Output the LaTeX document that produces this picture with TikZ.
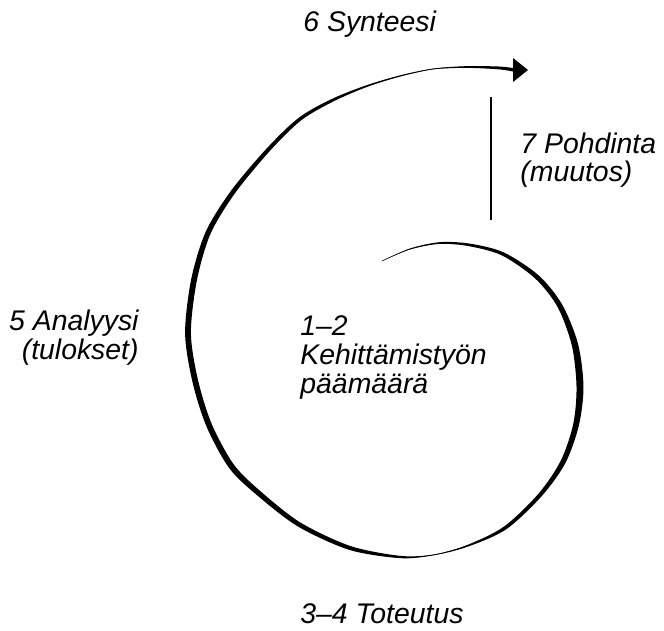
\documentclass[tikz,border=0pt]{standalone}
\usepackage{fontspec}
\setmainfont{Liberation Sans}
\usetikzlibrary{calc}

\begin{document}
\begin{tikzpicture}[x=0.5pt, y=-0.5pt,
    lbl/.style={font=\itshape\fontsize{14.2}{14.4}\selectfont, inner sep=0pt}]

    % --- frame ---
    \useasboundingbox (0,0) rectangle (664,631);

    % --- centre line of the spiral, from the middle outwards ---
    \foreach \x/\y [count=\i from 0] in {382/261, 410/249, 440/243, 470/245,
        503/254, 537/277, 560/306, 575/345, 580/387, 576/425, 563/462,
        540/495, 505/528, 467/546, 433/555, 400/557, 350/548, 300/525,
        262/496, 232/467, 209/425, 195/380, 188/333, 194/280, 208/233,
        233/192, 268/150, 300/119, 333/100, 367/86, 400/76, 433/69,
        467/67, 500/68, 514/70}
        \coordinate (p\i) at (\x,\y);

    % --- edges of the brush stroke (half width in pt per point) ---
    \foreach \hw [count=\i from 0] in {0.01, 0.23, 0.43, 0.67, 0.87, 1.16,
        1.3, 1.6, 1.74, 1.45, 1.3, 1.0, 0.87, 0.43, 0.2, 0.58, 1.0, 1.16,
        1.3, 1.45, 1.45, 1.45, 1.45, 1.45, 1.3, 1.16, 1.0, 0.87, 0.72,
        0.43, 0.29, 0.2, 0.43, 0.72, 0.87}{
        \pgfmathtruncatemacro\a{max(\i-1,0)}
        \pgfmathtruncatemacro\b{min(\i+1,34)}
        \coordinate (dl\i) at ($(p\a)!\hw pt!90:(p\b)$);
        \coordinate (dr\i) at ($(p\a)!\hw pt!-90:(p\b)$);
        \coordinate (l\i) at ($(p\i)+(dl\i)-(p\a)$);
        \coordinate (r\i) at ($(p\i)+(dr\i)-(p\a)$);
    }

    % --- spiral stroke ---
    \fill plot[smooth] coordinates {(l0) (l1) (l2) (l3) (l4) (l5) (l6) (l7)
        (l8) (l9) (l10) (l11) (l12) (l13) (l14) (l15) (l16) (l17) (l18) (l19)
        (l20) (l21) (l22) (l23) (l24) (l25) (l26) (l27) (l28) (l29) (l30)
        (l31) (l32) (l33) (l34)}
        -- plot[smooth] coordinates {(r34) (r33) (r32) (r31) (r30) (r29)
        (r28) (r27) (r26) (r25) (r24) (r23) (r22) (r21) (r20) (r19) (r18)
        (r17) (r16) (r15) (r14) (r13) (r12) (r11) (r10) (r9) (r8) (r7) (r6)
        (r5) (r4) (r3) (r2) (r1) (r0)} -- cycle;
    \draw[line width=0.25pt] plot[smooth] coordinates {(p0) (p1) (p2) (p3)
        (p4) (p5) (p6) (p7) (p8) (p9) (p10) (p11) (p12) (p13) (p14) (p15)
        (p16) (p17) (p18) (p19) (p20) (p21) (p22) (p23) (p24) (p25) (p26)
        (p27) (p28) (p29) (p30) (p31) (p32) (p33) (p34)};

    % --- arrowhead ---
    \coordinate (tip) at (528,70);
    \fill (513,58) -- (tip) -- (513,82) -- cycle;

    % --- reflection line ---
    \coordinate (vtop) at (491,97);
    \coordinate (vbot) at (491,220);
    \draw[line width=0.65pt] (vtop) -- (vbot);

    % --- labels (base = last line) ---
    \node[lbl, anchor=base west] (synteesi) at (303,32) {6 Synteesi};
    \node[lbl, anchor=base west, align=left] (pohdinta) at (520,182) {7 Pohdinta\\(muutos)};
    \node[lbl, anchor=base east, align=right, font=\itshape\fontsize{14.2}{13}\selectfont] (analyysi) at (139,359) {5 Analyysi\\(tulokset)};
    \node[lbl, anchor=base west, align=left] (paamaara) at (300,393) {1–2\\Kehittämistyön\\päämäärä};
    \node[lbl, anchor=base west] (toteutus) at (300,623) {3–4 Toteutus};

\end{tikzpicture}
\end{document}
